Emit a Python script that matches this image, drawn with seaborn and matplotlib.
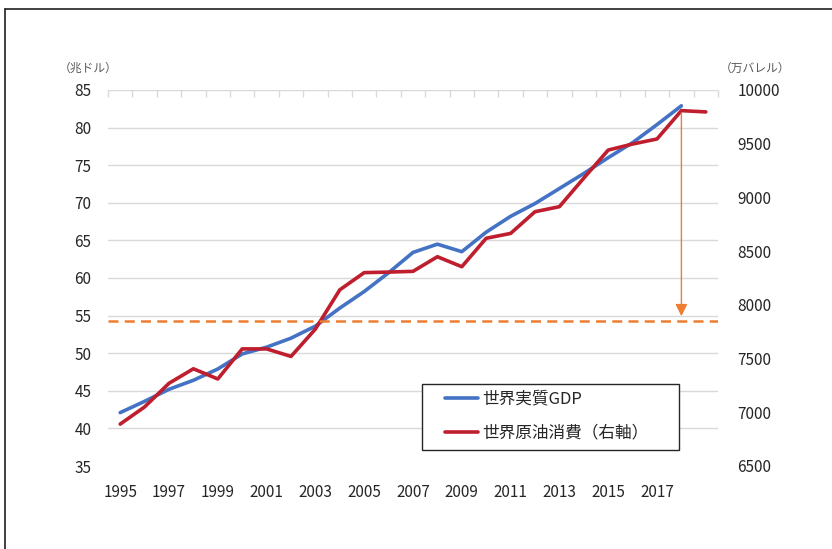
import numpy as np
import pandas as pd
import matplotlib
matplotlib.use("Agg")
import matplotlib.pyplot as plt
from matplotlib.lines import Line2D
from matplotlib.patches import Rectangle
import seaborn as sns

# データ
years = list(range(1995, 2020))
gdp = [42.1, 43.6, 45.2, 46.4, 47.9, 49.9, 50.8, 52.0, 53.6, 56.0, 58.2,
       60.7, 63.4, 64.5, 63.5, 66.1, 68.2, 69.9, 71.9, 73.9, 76.0, 78.0,
       80.4, 82.9]
oil = [6890, 7050, 7270, 7405, 7310, 7590, 7590, 7520, 7775, 8140, 8300,
       8305, 8312, 8448, 8355, 8620, 8665, 8867, 8914, 9180, 9441, 9497,
       9544, 9808, 9796]
ref_level = 7850

gdp_label = "世界実質GDP"
oil_label = "世界原油消費（右軸）"
left_unit = "（兆ドル）"
right_unit = "（万バレル）"

df_gdp = pd.DataFrame({"year": years[:len(gdp)], "value": gdp})
df_oil = pd.DataFrame({"year": years, "value": oil})

sns.set_theme(style="white")
plt.rcParams["font.family"] = ["Noto Sans CJK JP", "DejaVu Sans"]

BLUE = "#4472C4"
RED = "#BE1E2D"
ORANGE = "#ED7D31"
GRID = "#D9D9D9"
TXT = "#262626"

fig = plt.figure(figsize=(8.32, 5.49), dpi=100)
W, H = 832, 549
ax = fig.add_axes([108 / W, 1 - 466 / H, 610 / W, 376 / H])
ax2 = ax.twinx()

sns.lineplot(data=df_gdp, x="year", y="value", ax=ax, color=BLUE, lw=2.6, legend=False)
sns.lineplot(data=df_oil, x="year", y="value", ax=ax2, color=RED, lw=2.6, legend=False)

ax.set_xlim(1994.5, 2019.5)
ax.set_ylim(35, 85)
ax2.set_ylim(6500, 10000)
ax.set_yticks(np.arange(35, 86, 5))
ax2.set_yticks(np.arange(6500, 10001, 500))
ax.set_xticks(list(range(1995, 2018, 2)))

for g in np.arange(40, 86, 5):
    ax.axhline(g, color=GRID, lw=1, zorder=0)

ax.set_xlabel("")
ax.set_ylabel("")
ax2.set_ylabel("")
for a in (ax, ax2):
    for s in a.spines.values():
        s.set_visible(False)
ax.tick_params(axis="both", length=0, labelsize=11, labelcolor=TXT)
ax.tick_params(axis="y", pad=12)
ax.tick_params(axis="x", pad=13)
ax2.tick_params(axis="y", length=0, labelsize=11, labelcolor=TXT, pad=14)

# 上側の目盛り（カテゴリ境界）
top = ax.secondary_xaxis("top")
top.set_xticks(np.arange(1994.5, 2020, 1))
top.set_xticklabels([])
top.tick_params(direction="in", length=5, color=GRID, width=1)
top.spines["top"].set_visible(False)

# 基準線と矢印
ax2.axhline(ref_level, color=ORANGE, ls=(0, (4, 2.5)), lw=1.8)
ax2.annotate("", xy=(2018, ref_level + 45), xytext=(2018, oil[23] - 20),
             arrowprops=dict(arrowstyle="-|>,head_length=0.6,head_width=0.3",
                             color=ORANGE, lw=1, shrinkA=0, shrinkB=0))

# 単位
fig.text(88 / W, 1 - 68 / H, left_unit, ha="center", va="center", fontsize=8.5, color="#595959")
fig.text(755 / W, 1 - 68 / H, right_unit, ha="center", va="center", fontsize=8.5, color="#595959")

# 凡例（枠は別に描く）
box = Rectangle((0.515, 0.043), 0.421, 0.175, transform=ax2.transAxes,
                facecolor="white", edgecolor="#262626", lw=1, zorder=4)
ax2.add_patch(box)
handles = [Line2D([0], [0], color=BLUE, lw=2.6), Line2D([0], [0], color=RED, lw=2.6)]
leg = ax2.legend(handles, [gdp_label, oil_label], loc="center left",
                 bbox_to_anchor=((445 - 108) / 610, (466 - 416) / 376),
                 fontsize=12, frameon=False, labelspacing=1.0,
                 handlelength=2.0, handletextpad=0.25, borderpad=0, borderaxespad=0)
leg.set_zorder(5)
for t in leg.get_texts():
    t.set_color(TXT)

# 枠線
fig.add_artist(Line2D([5 / W, 5 / W], [0, 1 - 9 / H], color="#231F20", lw=1.2))
fig.add_artist(Line2D([5 / W, 1], [1 - 9 / H, 1 - 9 / H], color="#231F20", lw=1.2))

fig.savefig("out.png", dpi=100)
